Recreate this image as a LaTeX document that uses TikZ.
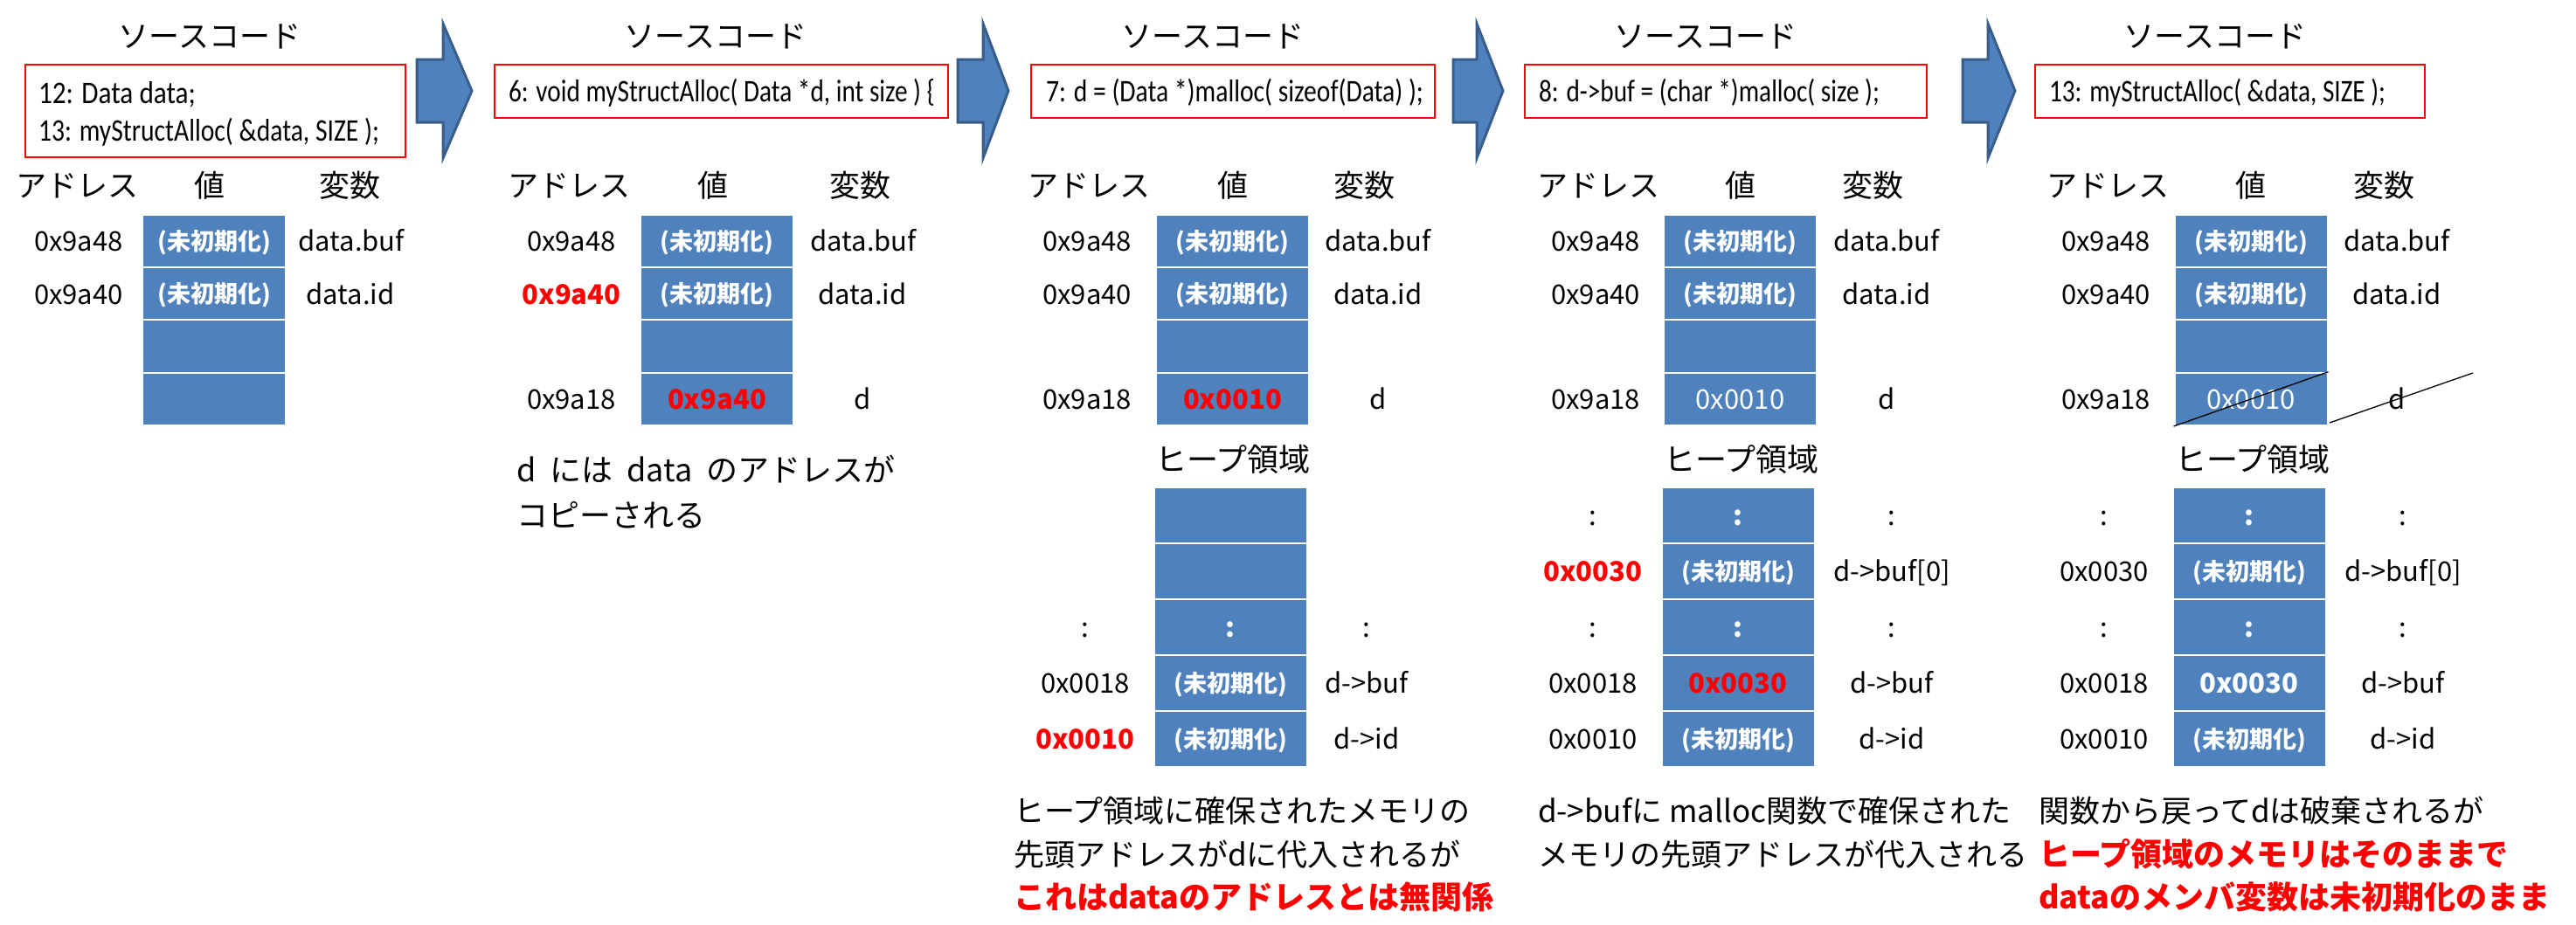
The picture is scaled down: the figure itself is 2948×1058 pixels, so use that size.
\documentclass[tikz,border=0pt]{standalone}
\usepackage{fontspec}
\usepackage{graphicx}
\setmainfont{Noto Sans CJK JP}
\newfontfamily\codefont{Carlito}
\definecolor{cellblue}{HTML}{4F81BD}
\definecolor{arrowedge}{HTML}{385D8A}
\definecolor{hotred}{HTML}{FF0000}
\tikzset{
  tx/.style={inner sep=0pt, outer sep=0pt},
  titlet/.style={tx, font=\fontsize{35pt}{35pt}\selectfont, text height=30pt, text depth=3.5pt},
  headt/.style={tx, font=\fontsize{35pt}{35pt}\selectfont, text height=30pt, text depth=3.5pt},
  heapt/.style={tx, font=\fontsize{36pt}{36pt}\selectfont, text height=30.6pt, text depth=3.6pt},
  lbl/.style={tx, font=\fontsize{31pt}{31pt}\selectfont, text height=26.4pt, text depth=3.1pt},
  lblred/.style={tx, font=\fontsize{31pt}{31pt}\selectfont\bfseries, text=hotred, text height=26.4pt, text depth=3.1pt},
  capt/.style={tx, anchor=west, font=\fontsize{35pt}{35pt}\selectfont, text height=29.8pt, text depth=3.5pt},
  capred/.style={capt, font=\fontsize{36pt}{36pt}\selectfont\bfseries, text=hotred},
  codet/.style={tx, anchor=west, font=\codefont\fontsize{36pt}{36pt}\selectfont, text height=27pt, text depth=3.6pt},
  codebox/.style={rectangle, draw=hotred, line width=2.8pt, inner sep=0pt},
  cell/.style={rectangle, fill=cellblue, draw=white, line width=2pt, minimum width=175pt, minimum height=60.25pt, inner sep=0pt},
  hcell/.style={cell, minimum height=64pt},
  uninit/.style={font=\fontsize{27pt}{27pt}\selectfont\bfseries, text=white, text height=23pt, text depth=2.7pt},
  cwhite/.style={font=\fontsize{31pt}{31pt}\selectfont, text=white, text height=26.4pt, text depth=3.1pt},
  cwhiteb/.style={font=\fontsize{31pt}{31pt}\selectfont\bfseries, text=white, text height=26.4pt, text depth=3.1pt},
  cred/.style={font=\fontsize{31pt}{31pt}\selectfont\bfseries, text=hotred, text height=26.4pt, text depth=3.1pt},
  blockarrow/.style={fill=cellblue, draw=arrowedge, line width=3pt, line join=miter},
  strike/.style={draw=black, line width=1.3pt}
}
\newcommand{\code}[2]{\resizebox{#1pt}{\height}{#2}}
\newcommand{\gap}{\hspace{16pt}}
\begin{document}
\begin{tikzpicture}[x=1pt,y=-1pt]
\fill[white] (0,0) rectangle (2948,1058);
\path[use as bounding box] (0,0) rectangle (2948,1058);

% ---------------- arrows ----------------
\foreach \S/\H/\P in {477/507/540, 1096/1125/1154, 1663/1690/1720, 2246/2275/2306}{
  \path[blockarrow] (\S,68) -- (\H,68) -- (\H,27) -- (\P,104) -- (\H,181) -- (\H,140) -- (\S,140) -- cycle;
}

% ================= Panel 1 =================
\node[titlet] (p1title) at (240,41) {ソースコード};
\node[codebox, minimum width=435pt, minimum height=106pt] (p1box) at (246.5,127) {};
\node[codet] (p1code1) at (44,107) {\code{180}{12: Data data;}};
\node[codet] (p1code2) at (44,150) {\code{390}{13: myStructAlloc( \&data, SIZE );}};
\node[headt] (p1ha) at (89,212) {アドレス};
\node[headt] (p1hv) at (240,212) {値};
\node[headt] (p1hn) at (400,212) {変数};
\node[cell, minimum width=164pt, uninit] (p1c1) at (245,276.1) {(未初期化)};
\node[cell, minimum width=164pt, uninit] (p1c2) at (245,336.4) {(未初期化)};
\node[cell, minimum width=164pt] (p1c3) at (245,396.6) {};
\node[cell, minimum width=164pt] (p1c4) at (245,456.9) {};
\node[lbl] (p1a1) at (90,276.1) {0x9a48};
\node[lbl] (p1a2) at (90,336.4) {0x9a40};
\node[lbl] (p1v1) at (402,276.1) {data.buf};
\node[lbl] (p1v2) at (401,336.4) {data.id};

% ================= Panel 2 =================
\node[titlet] (p2title) at (819,41) {ソースコード};
\node[codebox, minimum width=519pt, minimum height=61pt] (p2box) at (825.5,104.5) {};
\node[codet] (p2code) at (582,105) {\code{488}{6: void myStructAlloc( Data *d, int size ) \{}};
\node[headt] (p2ha) at (651,212) {アドレス};
\node[headt] (p2hv) at (816,212) {値};
\node[headt] (p2hn) at (984,212) {変数};
\node[cell, uninit] (p2c1) at (820.5,276.1) {(未初期化)};
\node[cell, uninit] (p2c2) at (820.5,336.4) {(未初期化)};
\node[cell] (p2c3) at (820.5,396.6) {};
\node[cell, cred] (p2c4) at (820.5,456.9) {0x9a40};
\node[lbl] (p2a1) at (654,276.1) {0x9a48};
\node[lblred] (p2a2) at (654,336.4) {0x9a40};
\node[lbl] (p2a4) at (654,456.9) {0x9a18};
\node[lbl] (p2v1) at (988,276.1) {data.buf};
\node[lbl] (p2v2) at (987,336.4) {data.id};
\node[lbl] (p2v4) at (987,456.9) {d};
\node[capt, font=\fontsize{36pt}{36pt}\selectfont] (p2cap1) at (591,538) {d\gap には\gap data\gap のアドレスが};
\node[capt, font=\fontsize{36pt}{36pt}\selectfont] (p2cap2) at (591,590) {コピーされる};

% ================= Panel 3 =================
\node[titlet] (p3title) at (1388,41) {ソースコード};
\node[codebox, minimum width=462pt, minimum height=61pt] (p3box) at (1411,104.5) {};
\node[codet] (p3code) at (1197,105) {\code{432}{7: d = (Data *)malloc( sizeof(Data) );}};
\node[headt] (p3ha) at (1246,212) {アドレス};
\node[headt] (p3hv) at (1411,212) {値};
\node[headt] (p3hn) at (1561,212) {変数};
\node[cell, uninit] (p3c1) at (1410.5,276.1) {(未初期化)};
\node[cell, uninit] (p3c2) at (1410.5,336.4) {(未初期化)};
\node[cell] (p3c3) at (1410.5,396.6) {};
\node[cell, cred] (p3c4) at (1410.5,456.9) {0x0010};
\node[lbl] (p3a1) at (1244,276.1) {0x9a48};
\node[lbl] (p3a2) at (1244,336.4) {0x9a40};
\node[lbl] (p3a4) at (1244,456.9) {0x9a18};
\node[lbl] (p3v1) at (1577,276.1) {data.buf};
\node[lbl] (p3v2) at (1577,336.4) {data.id};
\node[lbl] (p3v4) at (1577,456.9) {d};
\node[heapt] (p3heap) at (1411,526) {ヒープ領域};
\node[hcell] (p3h1) at (1408,590) {};
\node[hcell] (p3h2) at (1408,654) {};
\node[hcell, cwhiteb] (p3h3) at (1408,718) {:};
\node[hcell, uninit] (p3h4) at (1408,782) {(未初期化)};
\node[hcell, uninit] (p3h5) at (1408,846) {(未初期化)};
\node[lbl] (p3ha3) at (1242,718) {:};
\node[lbl] (p3ha4) at (1242,782) {0x0018};
\node[lblred] (p3ha5) at (1242,846) {0x0010};
\node[lbl] (p3hv3) at (1564,718) {:};
\node[lbl] (p3hv4) at (1564,782) {d->buf};
\node[lbl] (p3hv5) at (1564,846) {d->id};
\node[capt] (p3cap1) at (1160,928) {ヒープ領域に確保されたメモリの};
\node[capt] (p3cap2) at (1160,978) {先頭アドレスがdに代入されるが};
\node[capred] (p3cap3) at (1160,1027) {これはdataのアドレスとは無関係};

% ================= Panel 4 =================
\node[titlet] (p4title) at (1952,41) {ソースコード};
\node[codebox, minimum width=460pt, minimum height=61pt] (p4box) at (1975,104.5) {};
\node[codet] (p4code) at (1761,105) {\code{390}{8: d->buf = (char *)malloc( size );}};
\node[headt] (p4ha) at (1829,212) {アドレス};
\node[headt] (p4hv) at (1992,212) {値};
\node[headt] (p4hn) at (2143,212) {変数};
\node[cell, uninit] (p4c1) at (1991.5,276.1) {(未初期化)};
\node[cell, uninit] (p4c2) at (1991.5,336.4) {(未初期化)};
\node[cell] (p4c3) at (1991.5,396.6) {};
\node[cell, cwhite] (p4c4) at (1991.5,456.9) {0x0010};
\node[lbl] (p4a1) at (1826,276.1) {0x9a48};
\node[lbl] (p4a2) at (1826,336.4) {0x9a40};
\node[lbl] (p4a4) at (1826,456.9) {0x9a18};
\node[lbl] (p4v1) at (2159,276.1) {data.buf};
\node[lbl] (p4v2) at (2159,336.4) {data.id};
\node[lbl] (p4v4) at (2159,456.9) {d};
\node[heapt] (p4heap) at (1993,526) {ヒープ領域};
\node[hcell, cwhiteb] (p4h1) at (1989,590) {:};
\node[hcell, uninit] (p4h2) at (1989,654) {(未初期化)};
\node[hcell, cwhiteb] (p4h3) at (1989,718) {:};
\node[hcell, cred] (p4h4) at (1989,782) {0x0030};
\node[hcell, uninit] (p4h5) at (1989,846) {(未初期化)};
\node[lbl] (p4ha1) at (1823,590) {:};
\node[lblred] (p4ha2) at (1823,654) {0x0030};
\node[lbl] (p4ha3) at (1823,718) {:};
\node[lbl] (p4ha4) at (1823,782) {0x0018};
\node[lbl] (p4ha5) at (1823,846) {0x0010};
\node[lbl] (p4hv1) at (2165,590) {:};
\node[lbl] (p4hv2) at (2165,654) {d->buf[0]};
\node[lbl] (p4hv3) at (2165,718) {:};
\node[lbl] (p4hv4) at (2165,782) {d->buf};
\node[lbl] (p4hv5) at (2165,846) {d->id};
\node[capt] (p4cap1) at (1760,928) {d->bufに malloc関数で確保された};
\node[capt] (p4cap2) at (1760,978) {メモリの先頭アドレスが代入される};

% ================= Panel 5 =================
\node[titlet] (p5title) at (2535,41) {ソースコード};
\node[codebox, minimum width=446pt, minimum height=61pt] (p5box) at (2552,104.5) {};
\node[codet] (p5code) at (2345,105) {\code{385}{13: myStructAlloc( \&data, SIZE );}};
\node[headt] (p5ha) at (2412,212) {アドレス};
\node[headt] (p5hv) at (2576,212) {値};
\node[headt] (p5hn) at (2728,212) {変数};
\node[cell, uninit] (p5c1) at (2576,276.1) {(未初期化)};
\node[cell, uninit] (p5c2) at (2576,336.4) {(未初期化)};
\node[cell] (p5c3) at (2576,396.6) {};
\node[cell, cwhite] (p5c4) at (2576,456.9) {0x0010};
\node[lbl] (p5a1) at (2410,276.1) {0x9a48};
\node[lbl] (p5a2) at (2410,336.4) {0x9a40};
\node[lbl] (p5a4) at (2410,456.9) {0x9a18};
\node[lbl] (p5v1) at (2743,276.1) {data.buf};
\node[lbl] (p5v2) at (2743,336.4) {data.id};
\node[lbl] (p5v4) at (2743,456.9) {d};
\coordinate (p5s2a) at (2666,484);
\coordinate (p5s2b) at (2830,427);
\draw[strike] (p5c4.south west) -- (p5c4.north east);
\draw[strike] (p5s2a) -- (p5s2b);
\node[heapt] (p5heap) at (2578,526) {ヒープ領域};
\node[hcell, cwhiteb] (p5h1) at (2574,590) {:};
\node[hcell, uninit] (p5h2) at (2574,654) {(未初期化)};
\node[hcell, cwhiteb] (p5h3) at (2574,718) {:};
\node[hcell, cwhiteb] (p5h4) at (2574,782) {0x0030};
\node[hcell, uninit] (p5h5) at (2574,846) {(未初期化)};
\node[lbl] (p5ha1) at (2408,590) {:};
\node[lbl] (p5ha2) at (2408,654) {0x0030};
\node[lbl] (p5ha3) at (2408,718) {:};
\node[lbl] (p5ha4) at (2408,782) {0x0018};
\node[lbl] (p5ha5) at (2408,846) {0x0010};
\node[lbl] (p5hv1) at (2750,590) {:};
\node[lbl] (p5hv2) at (2750,654) {d->buf[0]};
\node[lbl] (p5hv3) at (2750,718) {:};
\node[lbl] (p5hv4) at (2750,782) {d->buf};
\node[lbl] (p5hv5) at (2750,846) {d->id};
\node[capt] (p5cap1) at (2333,928) {関数から戻ってdは破棄されるが};
\node[capred] (p5cap2) at (2333,978) {ヒープ領域のメモリはそのままで};
\node[capred] (p5cap3) at (2333,1027) {dataのメンバ変数は未初期化のまま};
\end{tikzpicture}
\end{document}
